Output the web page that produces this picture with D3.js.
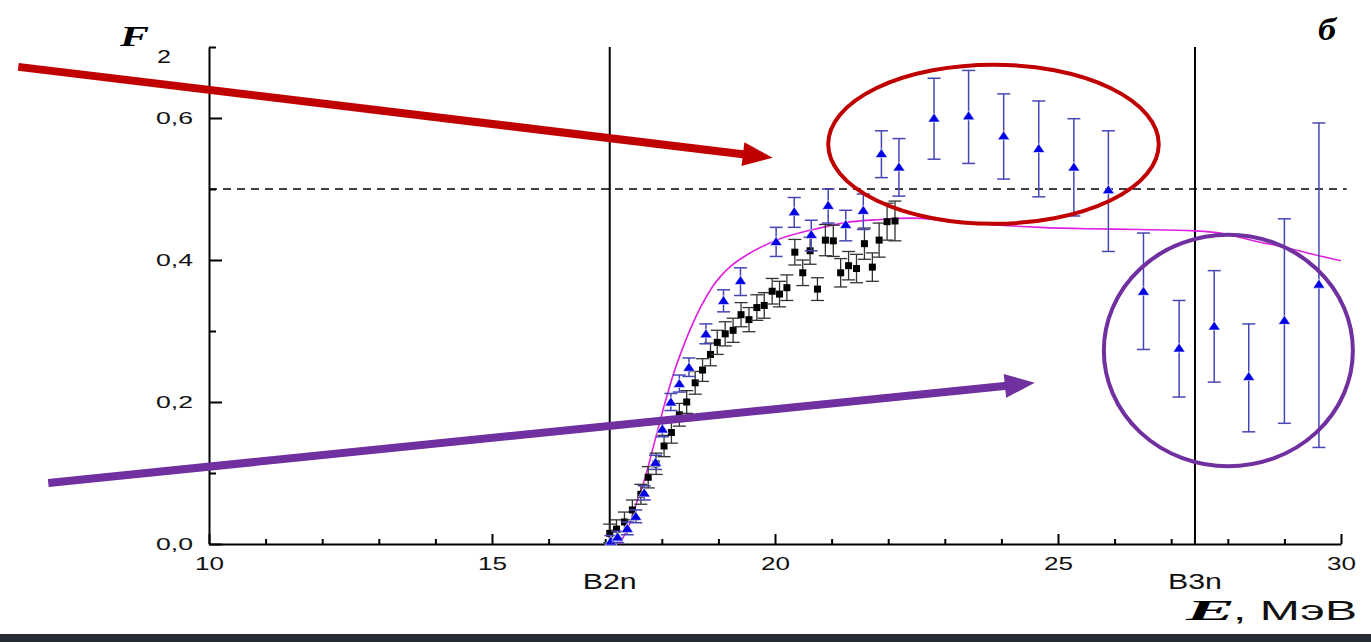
<!DOCTYPE html>
<html>
<head>
<meta charset="utf-8">
<script src="https://cdn.jsdelivr.net/npm/d3@7"></script>
<style>
body{margin:0;background:#fff;}
svg{display:block;}
</style>
</head>
<body>
<div id="idChart"></div>
<script>
// black squares: energy, value, error
var aBlackE=[17.08,17.20,17.34,17.48,17.63,17.76,17.90,18.04,18.17,18.31,18.44,18.59,18.72,18.86,18.98,19.12,19.26,19.40,19.54,19.68,19.81,19.95,20.08,20.21,20.35,20.49,20.62,20.75,20.89,21.03,21.16,21.30,21.44,21.58,21.72,21.84,21.98,22.12];
var aBlackF=[0.015,0.021,0.031,0.048,0.070,0.094,0.113,0.138,0.157,0.182,0.200,0.227,0.245,0.267,0.284,0.296,0.301,0.323,0.316,0.333,0.336,0.356,0.352,0.361,0.411,0.382,0.413,0.359,0.428,0.427,0.382,0.392,0.388,0.423,0.390,0.428,0.454,0.455];
var aBlackErr=[0.013,0.013,0.014,0.014,0.014,0.015,0.015,0.015,0.015,0.016,0.016,0.016,0.016,0.016,0.017,0.017,0.017,0.017,0.017,0.018,0.018,0.018,0.018,0.018,0.018,0.018,0.019,0.016,0.022,0.022,0.020,0.020,0.020,0.022,0.020,0.024,0.026,0.028];

// blue triangles: energy, value, lower and upper end of the error bar
var aBlueE=[17.10,17.22,17.39,17.54,17.69,17.89,18.01,18.16,18.31,18.48,18.78,19.09,19.39,20.02,20.34,20.64,20.94,21.25,21.56,21.88,22.19,22.81,23.42,24.04,24.66,25.28,25.89,26.51,27.14,27.76,28.37,29.00,29.61];
var aBlueF=[0.004,0.010,0.022,0.039,0.072,0.115,0.162,0.200,0.226,0.249,0.296,0.343,0.371,0.426,0.468,0.436,0.477,0.450,0.470,0.550,0.531,0.600,0.603,0.575,0.557,0.531,0.499,0.356,0.276,0.307,0.236,0.315,0.366];
var aBlueLo=[0.000,0.002,0.013,0.030,0.062,0.105,0.151,0.188,0.214,0.236,0.282,0.327,0.350,0.405,0.446,0.413,0.452,0.427,0.443,0.516,0.490,0.542,0.536,0.514,0.489,0.462,0.412,0.274,0.207,0.228,0.158,0.170,0.136];
var aBlueHi=[0.012,0.018,0.031,0.048,0.082,0.125,0.173,0.212,0.238,0.262,0.310,0.358,0.389,0.446,0.488,0.456,0.500,0.470,0.493,0.582,0.571,0.656,0.667,0.634,0.624,0.599,0.582,0.438,0.343,0.385,0.310,0.458,0.593];

// magenta model curve
var aCurveE=[17.25,17.41,17.58,17.70,17.88,18.06,18.20,18.35,18.50,18.65,18.80,18.91,19.05,19.20,19.50,20.03,20.68,21.27,21.86,22.39,23.00,23.97,24.68,25.50,26.45,27.42,28.00,28.51,29.00,29.50,30.00];
var aCurveF=[0.000,0.024,0.064,0.092,0.146,0.200,0.238,0.272,0.302,0.328,0.350,0.364,0.378,0.390,0.407,0.428,0.443,0.453,0.457,0.459,0.456,0.449,0.446,0.444,0.443,0.441,0.436,0.426,0.418,0.408,0.399];

var aMajorX=[10,15,20,25,30];
var aMinorX=[11,12,13,14,16,17,18,19,21,22,23,24,26,27,28,29];
var aMajorY=[0.0,0.2,0.4,0.6];
var aMinorY=[0.1,0.3,0.5,0.7];

var aThresholdE=[17.08,27.42];
var aThresholdLabel=["B2n","B3n"];
var fLimit=0.5;

// annotations in data units
var aArrowFrom=[[6.63,0.672],[7.16,0.086]];
var aArrowTo=[[19.96,0.544],[24.59,0.227]];
var aArrowColor=["#c00000","#7030a0"];
var aEllipseCenter=[[23.86,0.563],[28.01,0.2725]];
var aEllipseRadius=[[2.92,0.112],[2.20,0.163]];
var aEllipseColor=["#c00000","#7030a0"];

function DrawChart()
{
	var iWidth=1371;
	var iHeight=642;

	var myCanvas=d3.select("#idChart").append("svg")
		.attr("width",iWidth)
		.attr("height",iHeight);

	myCanvas.append("rect").attr("width",iWidth).attr("height",iHeight).attr("fill","#fff");
	myCanvas.append("rect").attr("x",0).attr("y",634).attr("width",iWidth).attr("height",8).attr("fill","#252b33");

	var xAxes=d3.scaleLinear().domain([10,30]).range([209,1341]);
	var yAxes=d3.scaleLinear().domain([0,0.7]).range([544,47]);

	var sSans="'Liberation Sans', Arial, sans-serif";
	var sSerif="'Liberation Serif', 'Times New Roman', serif";

	function fmt(v){return d3.format(".1f")(v).replace(".",",");}

	// axes
	var myYMinor=myCanvas.append("g").attr("transform","translate(209,0)")
		.call(d3.axisLeft(yAxes).tickValues(aMinorY).tickSize(-7).tickSizeOuter(0).tickFormat(""));
	myYMinor.select(".domain").remove();
	myYMinor.selectAll("line").attr("stroke-width",2);

	var myYAxis=myCanvas.append("g").attr("transform","translate(209,0)")
		.call(d3.axisLeft(yAxes).tickValues(aMajorY).tickSize(-13).tickSizeOuter(0).tickPadding(16).tickFormat(fmt));
	myYAxis.select(".domain").attr("stroke-width",2);
	myYAxis.selectAll("line").attr("stroke-width",2);
	myYAxis.selectAll("text")
		.attr("font-family",sSans).attr("font-size",17).attr("fill","#111")
		.attr("textLength",37).attr("lengthAdjust","spacingAndGlyphs");

	var myXMinor=myCanvas.append("g").attr("transform","translate(0,544)")
		.call(d3.axisBottom(xAxes).tickValues(aMinorX).tickSize(-5).tickSizeOuter(0).tickFormat(""));
	myXMinor.select(".domain").remove();
	myXMinor.selectAll("line").attr("stroke-width",2);

	var myXAxis=myCanvas.append("g").attr("transform","translate(0,544)")
		.call(d3.axisBottom(xAxes).tickValues(aMajorX).tickSize(-10).tickSizeOuter(0).tickPadding(13));
	myXAxis.select(".domain").attr("stroke-width",2);
	myXAxis.selectAll("line").attr("stroke-width",2);
	myXAxis.selectAll("text")
		.attr("font-family",sSans).attr("font-size",19).attr("fill","#111")
		.attr("textLength",29).attr("lengthAdjust","spacingAndGlyphs");

	// threshold lines
	myCanvas.selectAll(".Threshold").data(aThresholdE).enter().append("line")
		.attr("class","Threshold")
		.attr("x1",function(e){return xAxes(e);}).attr("x2",function(e){return xAxes(e);})
		.attr("y1",yAxes(0)).attr("y2",yAxes(0.7))
		.attr("stroke","#000").attr("stroke-width",2);

	myCanvas.selectAll(".ThresholdLabel").data(aThresholdE).enter().append("text")
		.attr("class","ThresholdLabel")
		.attr("x",function(e){return xAxes(e);})
		.attr("y",589)
		.attr("text-anchor","middle")
		.attr("font-family",sSans).attr("font-size",22).attr("fill","#111")
		.attr("textLength",54).attr("lengthAdjust","spacingAndGlyphs")
		.text(function(e,i){return aThresholdLabel[i];});

	// limit
	myCanvas.append("line")
		.attr("x1",xAxes(10)).attr("x2",xAxes(30.1))
		.attr("y1",yAxes(fLimit)).attr("y2",yAxes(fLimit))
		.attr("stroke","#000").attr("stroke-width",1.5).attr("stroke-dasharray","8,6");

	// model curve
	var myLine=d3.line().curve(d3.curveMonotoneX)
		.x(function(e){return xAxes(e);})
		.y(function(e,i){return yAxes(aCurveF[i]);});
	myCanvas.append("path").attr("d",myLine(aCurveE))
		.attr("fill","none").attr("stroke","#e020e0").attr("stroke-width",1.6);

	// black squares
	var myBlack=myCanvas.selectAll(".BlackPoint").data(aBlackE).enter().append("g").attr("class","BlackPoint");
	myBlack.append("line")
		.attr("x1",function(e){return xAxes(e);}).attr("x2",function(e){return xAxes(e);})
		.attr("y1",function(e,i){return yAxes(aBlackF[i]-aBlackErr[i]);})
		.attr("y2",function(e,i){return yAxes(aBlackF[i]+aBlackErr[i]);})
		.attr("stroke","#333").attr("stroke-width",1.3);
	[-1,1].forEach(function(iSign){
		myBlack.append("line")
			.attr("x1",function(e){return xAxes(e)-6.5;}).attr("x2",function(e){return xAxes(e)+6.5;})
			.attr("y1",function(e,i){return yAxes(aBlackF[i]+iSign*aBlackErr[i]);})
			.attr("y2",function(e,i){return yAxes(aBlackF[i]+iSign*aBlackErr[i]);})
			.attr("stroke","#333").attr("stroke-width",1.3);
	});
	myBlack.append("rect")
		.attr("x",function(e){return xAxes(e)-3.5;})
		.attr("y",function(e,i){return yAxes(aBlackF[i])-3.5;})
		.attr("width",7).attr("height",7).attr("fill","#000");

	// blue triangles
	var myBlue=myCanvas.selectAll(".BluePoint").data(aBlueE).enter().append("g").attr("class","BluePoint");
	myBlue.append("line")
		.attr("x1",function(e){return xAxes(e);}).attr("x2",function(e){return xAxes(e);})
		.attr("y1",function(e,i){return yAxes(aBlueLo[i]);})
		.attr("y2",function(e,i){return yAxes(aBlueHi[i]);})
		.attr("stroke","#4646b4").attr("stroke-width",1.5);
	[aBlueLo,aBlueHi].forEach(function(aEnd){
		myBlue.append("line")
			.attr("x1",function(e){return xAxes(e)-6.5;}).attr("x2",function(e){return xAxes(e)+6.5;})
			.attr("y1",function(e,i){return yAxes(aEnd[i]);})
			.attr("y2",function(e,i){return yAxes(aEnd[i]);})
			.attr("stroke","#4646b4").attr("stroke-width",1.5);
	});
	myBlue.append("path")
		.attr("d","M-6,4L6,4L0,-5Z")
		.attr("transform",function(e,i){return "translate("+xAxes(e)+","+yAxes(aBlueF[i])+")";})
		.attr("fill","#0000e6").attr("stroke","#fff").attr("stroke-width",0.6);

	// annotations
	aEllipseCenter.forEach(function(aC,i){
		myCanvas.append("ellipse")
			.attr("cx",xAxes(aC[0])).attr("cy",yAxes(aC[1]))
			.attr("rx",xAxes(10+aEllipseRadius[i][0])-xAxes(10))
			.attr("ry",yAxes(0)-yAxes(aEllipseRadius[i][1]))
			.attr("fill","none").attr("stroke",aEllipseColor[i]).attr("stroke-width",4);
	});
	aArrowFrom.forEach(function(aF,i){
		var x1=xAxes(aF[0]),y1=yAxes(aF[1]);
		var x2=xAxes(aArrowTo[i][0]),y2=yAxes(aArrowTo[i][1]);
		var fLen=Math.sqrt((x2-x1)*(x2-x1)+(y2-y1)*(y2-y1));
		var ux=(x2-x1)/fLen,uy=(y2-y1)/fLen;
		var iHead=30,iHalf=12;
		var bx=x2-ux*iHead,by=y2-uy*iHead;
		myCanvas.append("line")
			.attr("x1",x1).attr("y1",y1).attr("x2",bx+ux*2).attr("y2",by+uy*2)
			.attr("stroke",aArrowColor[i]).attr("stroke-width",8);
		myCanvas.append("path")
			.attr("d","M"+x2+","+y2+"L"+(bx-uy*iHalf)+","+(by+ux*iHalf)+"L"+(bx+uy*iHalf)+","+(by-ux*iHalf)+"Z")
			.attr("fill",aArrowColor[i]);
	});

	// titles
	myCanvas.append("text").attr("x",120).attr("y",46)
		.attr("font-family",sSerif).attr("font-size",29).attr("font-weight","bold").attr("font-style","italic")
		.attr("textLength",29).attr("lengthAdjust","spacingAndGlyphs").text("F");
	myCanvas.append("text").attr("x",157).attr("y",63)
		.attr("font-family",sSans).attr("font-size",19).attr("fill","#111")
		.attr("textLength",14).attr("lengthAdjust","spacingAndGlyphs").text("2");
	myCanvas.append("text").attr("x",1318).attr("y",40)
		.attr("font-family",sSerif).attr("font-size",31).attr("font-weight","bold").attr("font-style","italic")
		.attr("textLength",18).attr("lengthAdjust","spacingAndGlyphs").text("б");
	myCanvas.append("text").attr("x",1186).attr("y",620)
		.attr("font-family",sSerif).attr("font-size",30).attr("font-weight","bold").attr("font-style","italic")
		.attr("textLength",49).attr("lengthAdjust","spacingAndGlyphs").text("E");
	myCanvas.append("text").attr("x",1233).attr("y",620)
		.attr("font-family",sSans).attr("font-size",28).attr("fill","#111")
		.attr("textLength",124).attr("lengthAdjust","spacingAndGlyphs").text(", МэВ");
}

DrawChart();
</script>
</body>
</html>
